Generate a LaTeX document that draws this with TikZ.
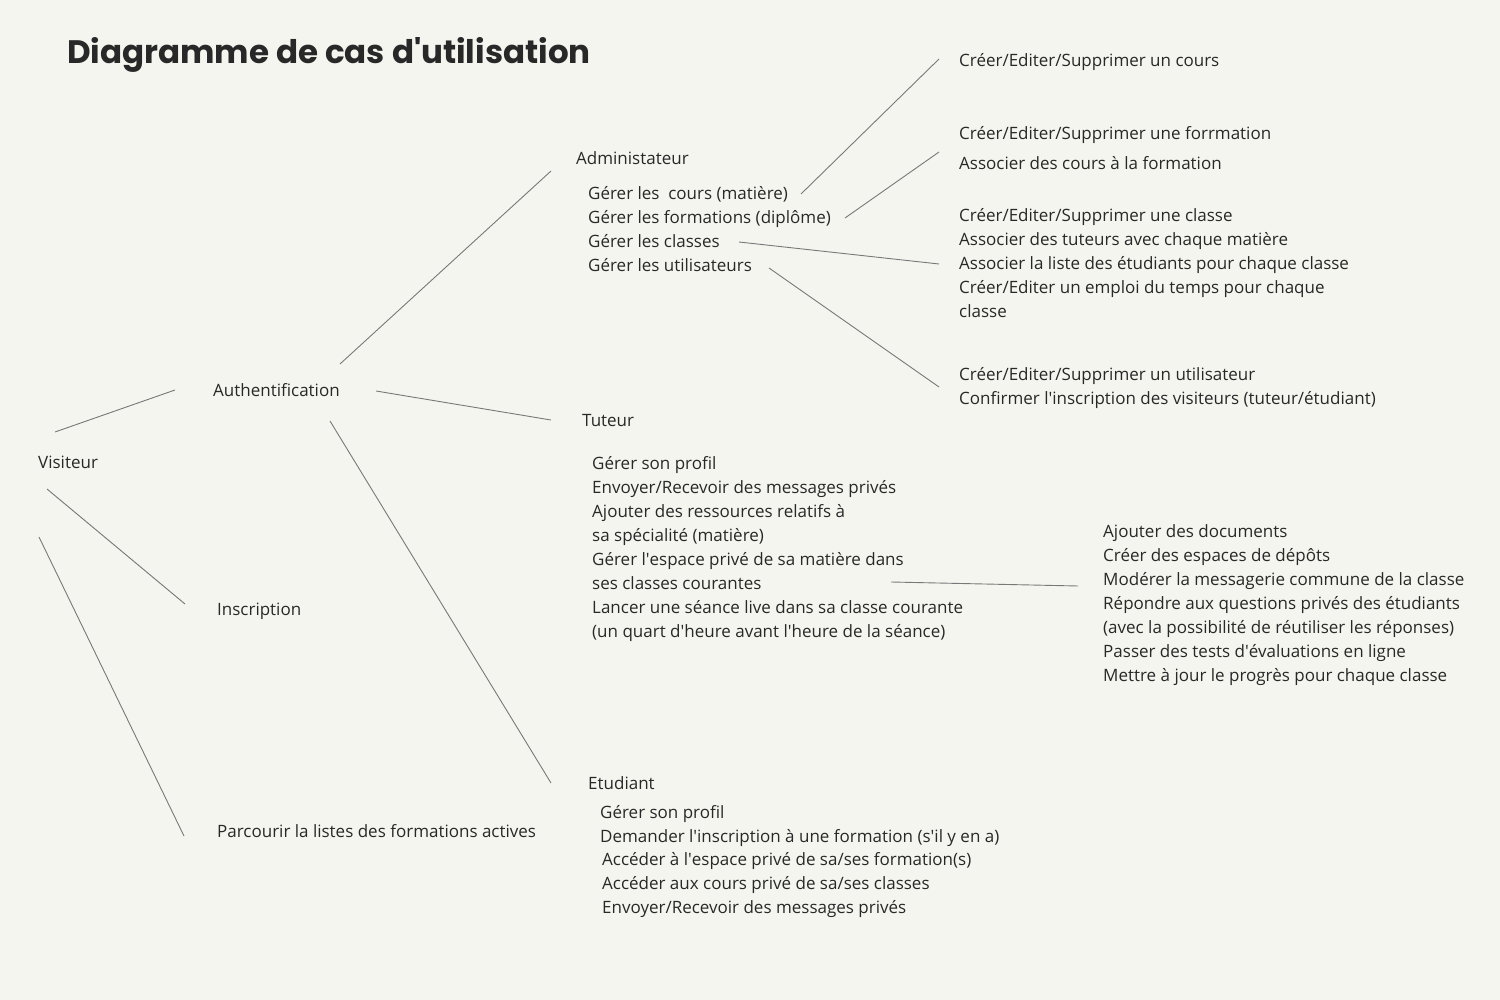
\documentclass[tikz,border=0pt]{standalone}
\usepackage{fontspec}
\setmainfont{Open Sans}[Ligatures=Common]
\newfontfamily\titlefont{Poppins}
\definecolor{bg}{RGB}{245,245,240}
\definecolor{ink}{RGB}{40,40,40}
\definecolor{wire}{RGB}{120,120,120}
\newcommand{\q}{\textquotesingle}
\tikzset{
  txt/.style={anchor=base west, inner sep=0pt, text=ink, font=\fontsize{17}{24}\selectfont},
  wireline/.style={draw=wire, line width=0.9pt},
}
\newcommand{\txtlines}[4]{% name, x, y of first baseline, list
  \foreach \t [count=\i] in {#4}
    \node[txt] (#1-\i) at (#2, #3+24*\i-24) {\t};
}
\begin{document}
\begin{tikzpicture}[x=1pt, y=-1pt]
\path[fill=bg] (0,0) rectangle (1500,1000);
\useasboundingbox (0,0) rectangle (1500,1000);

\node[anchor=base west, inner sep=0pt, text=ink, font=\titlefont\bfseries\fontsize{32.5}{38}\selectfont] (title) at (67,64) {Diagramme de cas d\q utilisation};

% actors / main nodes
\node[txt] (vis) at (38,468) {Visiteur};
\node[txt] (auth) at (213,396) {Authentification};
\node[txt] (insc) at (217,615) {Inscription};
\node[txt] (parc) at (217,837) {Parcourir la listes des formations actives};
\node[txt] (adm) at (576,165) {Administateur};
\node[txt] (tut) at (582,426) {Tuteur};
\node[txt] (etu) at (588,789) {Etudiant};

% admin list
\txtlines{admL}{588}{200}{{Gérer les \ cours (matière)},{Gérer les formations (diplôme)},{Gérer les classes},{Gérer les utilisateurs}}
% tuteur list
\txtlines{tutL}{592}{469}{{Gérer son profil},{Envoyer/Recevoir des messages privés},{Ajouter des ressources relatifs à},{sa spécialité (matière)},{Gérer l\q espace privé de sa matière dans},{ses classes courantes},{Lancer une séance live dans sa classe courante},{(un quart d\q heure avant l\q heure de la séance)}}
% etudiant list
\node[txt] (etuL-1) at (600,818) {Gérer son profil};
\node[txt] (etuL-2) at (600,842) {Demander l\q inscription à une formation (s\q il y en a)};
\node[txt] (etuL-3) at (602,865) {Accéder à l\q espace privé de sa/ses formation(s)};
\node[txt] (etuL-4) at (602,889) {Accéder aux cours privé de sa/ses classes};
\node[txt] (etuL-5) at (602,913) {Envoyer/Recevoir des messages privés};

% right side
\node[txt] (cours) at (959,67) {Créer/Editer/Supprimer un cours};
\node[txt] (form-1) at (959,140) {Créer/Editer/Supprimer une forrmation};
\node[txt] (form-2) at (959,170) {Associer des cours à la formation};
\txtlines{cls}{959}{222}{{Créer/Editer/Supprimer une classe},{Associer des tuteurs avec chaque matière},{Associer la liste des étudiants pour chaque classe},{Créer/Editer un emploi du temps pour chaque},{classe}}
\txtlines{usr}{959}{381}{{Créer/Editer/Supprimer un utilisateur},{Confirmer l\q inscription des visiteurs (tuteur/étudiant)}}
\txtlines{esp}{1103}{537}{{Ajouter des documents},{Créer des espaces de dépôts},{Modérer la messagerie commune de la classe},{Répondre aux questions privés des étudiants},{(avec la possibilité de réutiliser les réponses)},{Passer des tests d\q évaluations en ligne},{Mettre à jour le progrès pour chaque classe}}

% connector end points
\coordinate (visA) at (55,432);   \coordinate (authV) at (175,390);
\coordinate (visI) at (47,489);   \coordinate (inscV) at (185,604);
\coordinate (visP) at (39,537);   \coordinate (parcV) at (184,836);
\coordinate (authAd) at (340,364); \coordinate (admA) at (551,171);
\coordinate (authT) at (376,391);  \coordinate (tutA) at (551,420);
\coordinate (authE) at (330,421);  \coordinate (etuA) at (551,783);
\coordinate (gc) at (801,194);  \coordinate (coursG) at (939,59);
\coordinate (gf) at (845,218);  \coordinate (formG) at (939,152);
\coordinate (gcl) at (739,242); \coordinate (clsG) at (939,264);
\coordinate (gu) at (769,268);  \coordinate (usrG) at (939,387);
\coordinate (ts) at (891,582);  \coordinate (espT) at (1078,586);

\draw[wireline] (visA) -- (authV);
\draw[wireline] (visI) -- (inscV);
\draw[wireline] (visP) -- (parcV);
\draw[wireline] (authAd) -- (admA);
\draw[wireline] (authT) -- (tutA);
\draw[wireline] (authE) -- (etuA);
\draw[wireline] (gc) -- (coursG);
\draw[wireline] (gf) -- (formG);
\draw[wireline] (gcl) -- (clsG);
\draw[wireline] (gu) -- (usrG);
\draw[wireline] (ts) -- (espT);
\end{tikzpicture}
\end{document}
